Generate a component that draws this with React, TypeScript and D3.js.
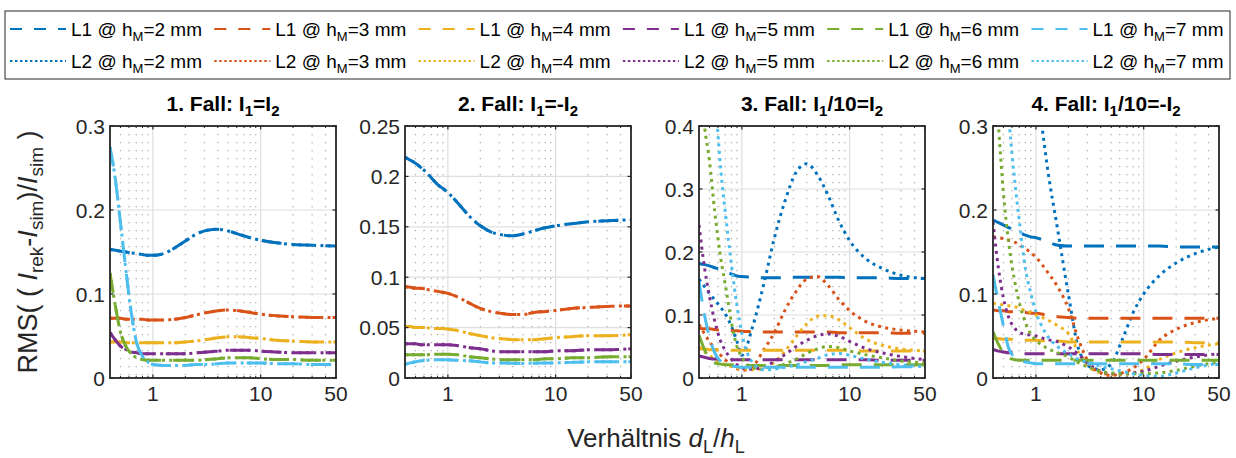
import React from 'react';
import * as d3 from 'd3';

const COLORS = ['#0072BD', '#D95319', '#EDB120', '#7E2F8E', '#77AC30', '#4DBEEE'];
const H_M = [2, 3, 4, 5, 6, 7];
const XS = [0.4, 0.45, 0.5, 0.56, 0.63, 0.71, 0.8, 0.9, 1, 1.25, 1.6, 2, 2.5, 3.2, 4, 5, 6.3, 8, 10, 14, 20, 30, 50];

// Panel 1 (L1 and L2 coincide)
const P1 = [
  [0.153, 0.152, 0.151, 0.150, 0.149, 0.148, 0.147, 0.146, 0.146, 0.148, 0.155, 0.163, 0.171, 0.176, 0.177, 0.175, 0.171, 0.167, 0.164, 0.161, 0.159, 0.158, 0.157],
  [0.071, 0.071, 0.071, 0.070, 0.070, 0.070, 0.070, 0.069, 0.069, 0.069, 0.070, 0.072, 0.075, 0.078, 0.080, 0.081, 0.080, 0.078, 0.076, 0.074, 0.073, 0.072, 0.072],
  [0.043, 0.043, 0.043, 0.042, 0.042, 0.042, 0.042, 0.042, 0.042, 0.042, 0.042, 0.043, 0.044, 0.046, 0.048, 0.049, 0.049, 0.048, 0.047, 0.045, 0.044, 0.043, 0.043],
  [0.054, 0.045, 0.038, 0.034, 0.031, 0.030, 0.029, 0.029, 0.029, 0.029, 0.029, 0.029, 0.030, 0.031, 0.032, 0.033, 0.033, 0.033, 0.032, 0.031, 0.030, 0.030, 0.030],
  [0.125, 0.085, 0.055, 0.038, 0.029, 0.024, 0.022, 0.021, 0.021, 0.021, 0.021, 0.021, 0.021, 0.022, 0.023, 0.024, 0.024, 0.024, 0.023, 0.022, 0.022, 0.021, 0.021],
  [0.275, 0.235, 0.185, 0.130, 0.078, 0.041, 0.026, 0.019, 0.016, 0.015, 0.015, 0.015, 0.016, 0.016, 0.017, 0.018, 0.018, 0.018, 0.018, 0.017, 0.017, 0.016, 0.016],
];

// Panel 2 (L1 and L2 coincide)
const P2 = [
  [0.219, 0.216, 0.213, 0.209, 0.204, 0.198, 0.192, 0.188, 0.184, 0.173, 0.160, 0.151, 0.145, 0.142, 0.141, 0.143, 0.146, 0.149, 0.151, 0.153, 0.155, 0.156, 0.157],
  [0.0906, 0.090, 0.089, 0.089, 0.088, 0.087, 0.086, 0.085, 0.084, 0.080, 0.074, 0.069, 0.066, 0.064, 0.063, 0.063, 0.065, 0.066, 0.067, 0.069, 0.070, 0.071, 0.0715],
  [0.051, 0.051, 0.050, 0.050, 0.050, 0.049, 0.049, 0.049, 0.0485, 0.047, 0.044, 0.042, 0.040, 0.039, 0.038, 0.038, 0.038, 0.039, 0.040, 0.041, 0.042, 0.042, 0.043],
  [0.034, 0.034, 0.034, 0.033, 0.033, 0.033, 0.033, 0.033, 0.033, 0.032, 0.030, 0.029, 0.027, 0.026, 0.026, 0.026, 0.026, 0.026, 0.027, 0.027, 0.028, 0.028, 0.029],
  [0.023, 0.023, 0.023, 0.023, 0.023, 0.0235, 0.0235, 0.0235, 0.0235, 0.023, 0.021, 0.020, 0.019, 0.018, 0.018, 0.018, 0.018, 0.019, 0.019, 0.020, 0.020, 0.021, 0.021],
  [0.0136, 0.015, 0.016, 0.017, 0.0175, 0.018, 0.018, 0.018, 0.018, 0.0175, 0.017, 0.016, 0.015, 0.015, 0.0146, 0.0145, 0.0146, 0.015, 0.015, 0.0155, 0.016, 0.016, 0.016],
];

// Panel 3
const P3_L1 = [
  [0.182, 0.180, 0.178, 0.175, 0.172, 0.168, 0.165, 0.162, 0.161, 0.160, 0.159, 0.159, 0.159, 0.160, 0.160, 0.160, 0.160, 0.160, 0.159, 0.159, 0.159, 0.158, 0.158],
  [0.079, 0.078, 0.078, 0.077, 0.076, 0.076, 0.075, 0.075, 0.074, 0.074, 0.073, 0.073, 0.073, 0.073, 0.073, 0.073, 0.073, 0.072, 0.072, 0.072, 0.072, 0.071, 0.071],
  [0.046, 0.046, 0.045, 0.045, 0.045, 0.045, 0.044, 0.044, 0.044, 0.044, 0.044, 0.044, 0.044, 0.044, 0.044, 0.044, 0.044, 0.044, 0.044, 0.043, 0.043, 0.043, 0.043],
  [0.035, 0.033, 0.031, 0.030, 0.030, 0.029, 0.029, 0.029, 0.029, 0.029, 0.029, 0.029, 0.029, 0.029, 0.029, 0.029, 0.029, 0.029, 0.029, 0.029, 0.028, 0.028, 0.028],
  [0.068, 0.045, 0.030, 0.024, 0.022, 0.021, 0.021, 0.020, 0.020, 0.020, 0.020, 0.020, 0.020, 0.020, 0.020, 0.020, 0.020, 0.021, 0.021, 0.021, 0.021, 0.021, 0.021],
  [0.153, 0.100, 0.065, 0.040, 0.027, 0.021, 0.019, 0.018, 0.017, 0.017, 0.017, 0.017, 0.017, 0.017, 0.017, 0.017, 0.017, 0.017, 0.017, 0.017, 0.017, 0.018, 0.018],
];
const P3_L2 = [
  [0.157, 0.145, 0.134, 0.124, 0.113, 0.100, 0.082, 0.058, 0.036, 0.080, 0.150, 0.222, 0.280, 0.327, 0.340, 0.323, 0.290, 0.248, 0.218, 0.190, 0.174, 0.163, 0.158],
  [0.085, 0.070, 0.058, 0.047, 0.037, 0.028, 0.020, 0.015, 0.012, 0.018, 0.045, 0.072, 0.107, 0.138, 0.157, 0.161, 0.147, 0.124, 0.107, 0.090, 0.081, 0.076, 0.073],
  [0.050, 0.042, 0.036, 0.030, 0.025, 0.021, 0.018, 0.016, 0.015, 0.013, 0.015, 0.025, 0.042, 0.066, 0.086, 0.098, 0.099, 0.092, 0.080, 0.062, 0.052, 0.046, 0.043],
  [0.243, 0.175, 0.130, 0.090, 0.060, 0.042, 0.030, 0.021, 0.016, 0.014, 0.018, 0.026, 0.037, 0.050, 0.060, 0.067, 0.070, 0.066, 0.058, 0.047, 0.040, 0.034, 0.029],
  [0.500, 0.400, 0.345, 0.264, 0.195, 0.143, 0.088, 0.050, 0.033, 0.017, 0.014, 0.017, 0.022, 0.030, 0.039, 0.046, 0.050, 0.048, 0.043, 0.037, 0.032, 0.027, 0.024],
  [0.800, 0.700, 0.580, 0.460, 0.340, 0.255, 0.180, 0.115, 0.070, 0.025, 0.013, 0.014, 0.017, 0.021, 0.026, 0.031, 0.037, 0.039, 0.036, 0.030, 0.025, 0.021, 0.018],
];

// Panel 4
const P4_L1 = [
  [0.188, 0.185, 0.182, 0.179, 0.176, 0.173, 0.170, 0.168, 0.167, 0.163, 0.158, 0.157, 0.157, 0.157, 0.157, 0.157, 0.157, 0.157, 0.157, 0.157, 0.156, 0.156, 0.156],
  [0.081, 0.080, 0.080, 0.079, 0.079, 0.078, 0.078, 0.077, 0.077, 0.075, 0.073, 0.072, 0.071, 0.071, 0.071, 0.071, 0.071, 0.071, 0.071, 0.071, 0.071, 0.071, 0.071],
  [0.047, 0.047, 0.046, 0.046, 0.046, 0.045, 0.045, 0.045, 0.045, 0.044, 0.044, 0.043, 0.043, 0.043, 0.043, 0.043, 0.043, 0.043, 0.043, 0.043, 0.043, 0.042, 0.042],
  [0.034, 0.032, 0.031, 0.030, 0.030, 0.029, 0.029, 0.029, 0.029, 0.029, 0.029, 0.029, 0.029, 0.029, 0.029, 0.029, 0.029, 0.029, 0.029, 0.028, 0.028, 0.028, 0.028],
  [0.055, 0.040, 0.030, 0.024, 0.022, 0.021, 0.021, 0.021, 0.021, 0.021, 0.021, 0.021, 0.021, 0.021, 0.021, 0.021, 0.021, 0.021, 0.021, 0.021, 0.021, 0.021, 0.021],
  [0.123, 0.090, 0.062, 0.035, 0.025, 0.021, 0.019, 0.018, 0.017, 0.017, 0.017, 0.017, 0.017, 0.017, 0.017, 0.017, 0.017, 0.017, 0.017, 0.017, 0.017, 0.016, 0.016],
];
const P4_L2 = [
  [0.900, 0.850, 0.800, 0.740, 0.670, 0.600, 0.520, 0.450, 0.370, 0.260, 0.175, 0.100, 0.034, 0.013, 0.010, 0.017, 0.045, 0.078, 0.100, 0.122, 0.137, 0.148, 0.156],
  [0.168, 0.167, 0.166, 0.164, 0.162, 0.158, 0.154, 0.149, 0.144, 0.128, 0.108, 0.083, 0.045, 0.015, 0.006, 0.003, 0.006, 0.012, 0.022, 0.045, 0.058, 0.066, 0.071],
  [0.089, 0.088, 0.087, 0.086, 0.085, 0.083, 0.080, 0.078, 0.075, 0.070, 0.062, 0.053, 0.030, 0.012, 0.006, 0.004, 0.004, 0.006, 0.010, 0.022, 0.030, 0.036, 0.041],
  [0.186, 0.130, 0.095, 0.072, 0.060, 0.054, 0.052, 0.051, 0.050, 0.046, 0.043, 0.037, 0.028, 0.015, 0.008, 0.005, 0.005, 0.006, 0.008, 0.014, 0.020, 0.025, 0.029],
  [0.400, 0.300, 0.220, 0.160, 0.118, 0.087, 0.066, 0.052, 0.045, 0.036, 0.030, 0.025, 0.018, 0.012, 0.008, 0.006, 0.005, 0.005, 0.005, 0.006, 0.009, 0.014, 0.019],
  [0.600, 0.480, 0.390, 0.310, 0.240, 0.182, 0.130, 0.100, 0.079, 0.052, 0.037, 0.029, 0.022, 0.018, 0.014, 0.011, 0.008, 0.005, 0.003, 0.002, 0.006, 0.012, 0.018],
];

const PANEL_L1 = [P1, P2, P3_L1, P4_L1];
const PANEL_L2 = [P1, P2, P3_L2, P4_L2];
const Y_MAX = [0.3, 0.25, 0.4, 0.3];
const Y_TICKS = [
  [0, 0.1, 0.2, 0.3],
  [0, 0.05, 0.1, 0.15, 0.2, 0.25],
  [0, 0.1, 0.2, 0.3, 0.4],
  [0, 0.1, 0.2, 0.3],
];
const X_DOMAIN = [0.4, 50];
const X_TICKS = [1, 10, 50];
const X_MINOR = [0.5, 0.6, 0.7, 0.8, 0.9, 2, 3, 4, 5, 6, 7, 8, 9, 20, 30, 40];
const TITLES = [
  ['1. Fall: I', '1', '=I', '2'],
  ['2. Fall: I', '1', '=-I', '2'],
  ['3. Fall: I', '1', '/10=I', '2'],
  ['4. Fall: I', '1', '/10=-I', '2'],
];

const FONT = '"Liberation Sans", Arial, Helvetica, sans-serif';
const AX = '#262626';
const LEFTS = [110, 405, 699, 993];
const PW = 226;
const TOP = 126;
const BOTTOM = 378;
const DASH = '20 12';
const DOT = '3 4.3';
const TICK_FS = 21;

function Panel({ i }: { i: number }) {
  const L = LEFTS[i];
  const R = L + PW;
  const x = d3.scaleLog().domain(X_DOMAIN).range([L, R]);
  const y = d3.scaleLinear().domain([0, Y_MAX[i]]).range([BOTTOM, TOP]);
  const line = d3
    .line<number>()
    .x((_, k) => x(XS[k]))
    .y((v) => y(v))
    .curve(d3.curveMonotoneX);
  const clipId = `clip${i}`;
  const t = TITLES[i];
  return (
    <g>
      <defs>
        <clipPath id={clipId}>
          <rect x={L} y={TOP} width={PW} height={BOTTOM - TOP} />
        </clipPath>
      </defs>
      <rect x={L} y={TOP} width={PW} height={BOTTOM - TOP} fill="#fff" />
      {X_MINOR.map((v) => (
        <line key={'mg' + v} x1={x(v)} x2={x(v)} y1={TOP} y2={BOTTOM} stroke="#a8a8a8" strokeWidth={1.2} strokeDasharray="1.2 6.8" />
      ))}
      {[1, 10].map((v) => (
        <line key={'gx' + v} x1={x(v)} x2={x(v)} y1={TOP} y2={BOTTOM} stroke="#dedede" strokeWidth={1.2} />
      ))}
      {Y_TICKS[i].map((v) => (
        <line key={'gy' + v} x1={L} x2={R} y1={y(v)} y2={y(v)} stroke="#dedede" strokeWidth={1.2} />
      ))}
      <g clipPath={`url(#${clipId})`}>
        {COLORS.map((c, s) => (
          <g key={'s' + s}>
            <path d={line(PANEL_L1[i][s]) || ''} fill="none" stroke={c} strokeWidth={3} strokeDasharray={DASH} />
            <path d={line(PANEL_L2[i][s]) || ''} fill="none" stroke={c} strokeWidth={3} strokeDasharray={DOT} />
          </g>
        ))}
      </g>
      {X_TICKS.map((v) => (
        <g key={'tx' + v}>
          <line x1={x(v)} x2={x(v)} y1={BOTTOM} y2={BOTTOM - 3.5} stroke={AX} strokeWidth={1.2} />
          <line x1={x(v)} x2={x(v)} y1={TOP} y2={TOP + 3.5} stroke={AX} strokeWidth={1.2} />
          <text x={x(v)} y={401} textAnchor="middle" fontSize={TICK_FS} fontFamily={FONT} fill={AX}>
            {String(v)}
          </text>
        </g>
      ))}
      {X_MINOR.map((v) => (
        <g key={'mt' + v}>
          <line x1={x(v)} x2={x(v)} y1={BOTTOM} y2={BOTTOM - 2} stroke={AX} strokeWidth={1} />
          <line x1={x(v)} x2={x(v)} y1={TOP} y2={TOP + 2} stroke={AX} strokeWidth={1} />
        </g>
      ))}
      {Y_TICKS[i].map((v) => (
        <g key={'ty' + v}>
          <line x1={L} x2={L + 3.5} y1={y(v)} y2={y(v)} stroke={AX} strokeWidth={1.2} />
          <line x1={R} x2={R - 3.5} y1={y(v)} y2={y(v)} stroke={AX} strokeWidth={1.2} />
          <text x={L - 5} y={y(v) + 7.5} textAnchor="end" fontSize={TICK_FS} fontFamily={FONT} fill={AX}>
            {String(v)}
          </text>
        </g>
      ))}
      <rect x={L} y={TOP} width={PW} height={BOTTOM - TOP} fill="none" stroke={AX} strokeWidth={1.8} />
      <text x={(L + R) / 2} y={111} textAnchor="middle" fontSize={21} fontWeight="bold" fontFamily={FONT} fill="#000">
        {t[0]}
        <tspan fontSize={15} dy={5}>{t[1]}</tspan>
        <tspan dy={-5}>{t[2]}</tspan>
        <tspan fontSize={15} dy={5}>{t[3]}</tspan>
      </text>
    </g>
  );
}

function Legend() {
  const colW = 204.3;
  return (
    <g>
      <rect x={5} y={11} width={1225} height={68} fill="#fff" stroke={AX} strokeWidth={1} />
      {[0, 1].map((r) =>
        H_M.map((h, c) => {
          const x0 = 10 + c * colW;
          const yc = r === 0 ? 29 : 61;
          return (
            <g key={`lg${r}-${c}`}>
              <line
                x1={x0}
                x2={x0 + 56}
                y1={yc}
                y2={yc}
                stroke={COLORS[c]}
                strokeWidth={2.2}
                strokeDasharray={r === 0 ? '12 12' : '2.4 2.6'}
              />
              <text x={x0 + 61} y={yc + 7} fontSize={19} fontFamily={FONT} fill="#000">
                {`L${r + 1} @ h`}
                <tspan fontSize={13} dy={5}>M</tspan>
                <tspan dy={-5}>{`=${h} mm`}</tspan>
              </text>
            </g>
          );
        })
      )}
    </g>
  );
}

export default function App() {
  return (
    <div style={{ position: 'fixed', left: 0, top: 0 }}>
      <svg width={1236} height={458} viewBox="0 0 1236 458" style={{ display: 'block', background: '#fff' }}>
        <rect x={0} y={0} width={1236} height={458} fill="#fff" />
        <Legend />
        {[0, 1, 2, 3].map((i) => (
          <Panel key={i} i={i} />
        ))}
        <text transform="translate(37,252) rotate(-90)" textAnchor="middle" fontSize={27} fontFamily={FONT} fill={AX}>
          {'RMS( ( '}
          <tspan fontStyle="italic">I</tspan>
          <tspan fontSize={19} dy={6}>rek</tspan>
          <tspan dy={-6}>-</tspan>
          <tspan fontStyle="italic">I</tspan>
          <tspan fontSize={19} dy={6}>sim</tspan>
          <tspan dy={-6}>)/</tspan>
          <tspan fontStyle="italic">I</tspan>
          <tspan fontSize={19} dy={6}>sim</tspan>
          <tspan dy={-6}>{' )'}</tspan>
        </text>
        <text x={656} y={447} textAnchor="middle" fontSize={26} fontFamily={FONT} fill={AX}>
          {'Verhältnis '}
          <tspan fontStyle="italic">d</tspan>
          <tspan fontSize={18} dy={6}>L</tspan>
          <tspan dy={-6}>/</tspan>
          <tspan fontStyle="italic">h</tspan>
          <tspan fontSize={18} dy={6}>L</tspan>
        </text>
      </svg>
    </div>
  );
}
